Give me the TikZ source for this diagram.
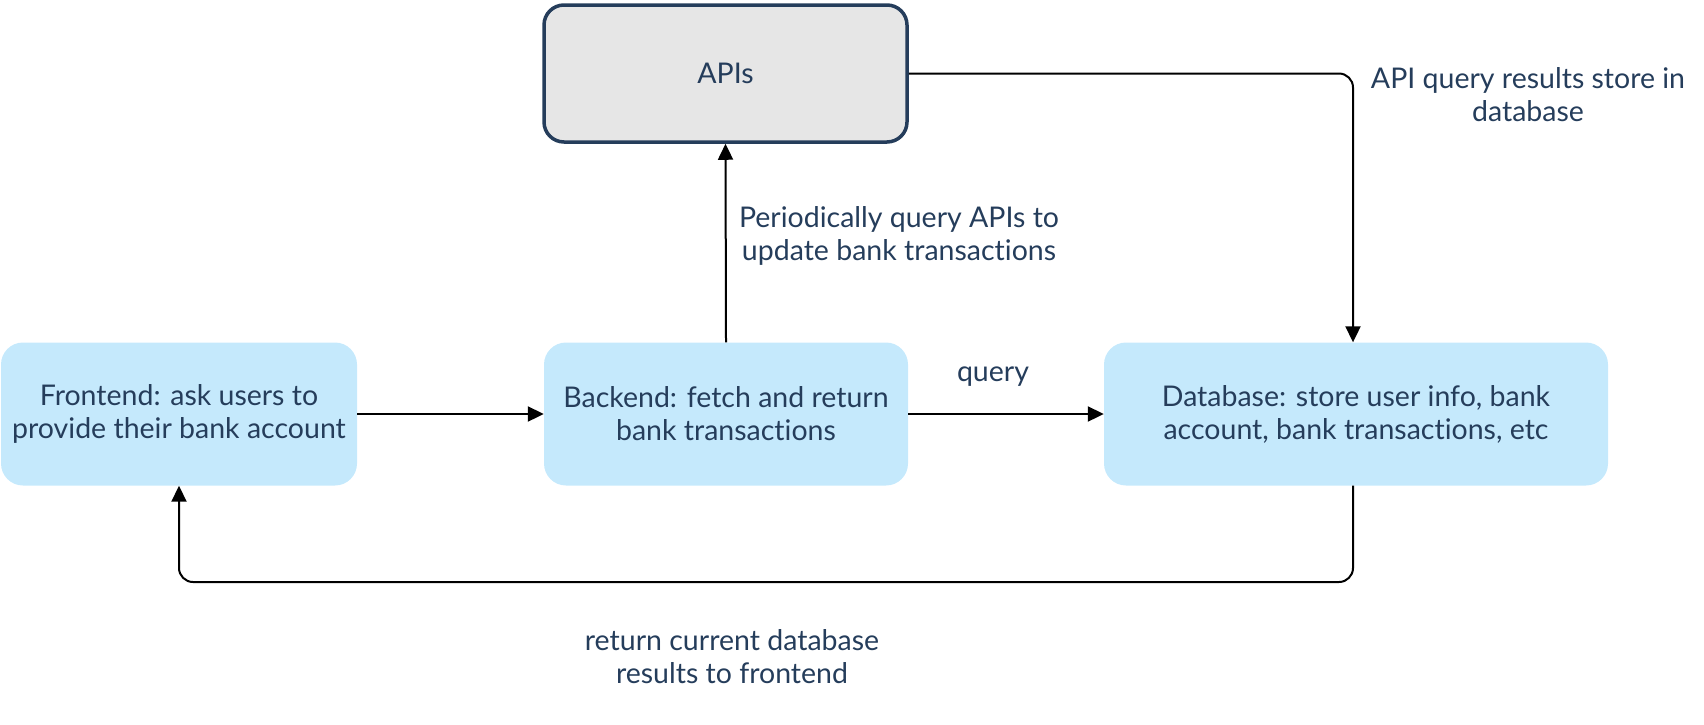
\documentclass[tikz,border=0pt]{standalone}
\usepackage{fontspec}
\setmainfont{Lato}[Ligatures={NoCommon,NoRare}]
\usetikzlibrary{arrows.meta,calc}
\definecolor{txt}{HTML}{253D5B}
\definecolor{boxblue}{HTML}{C5E9FC}
\definecolor{apigray}{HTML}{E6E6E6}
\definecolor{apiborder}{HTML}{253D5B}
\tikzset{
  base/.style={font=\fontsize{28.5}{33}\selectfont, text=txt, align=center},
  bluebox/.style={base, fill=boxblue, rounded corners=22pt, inner sep=0pt, minimum height=143pt},
  apibox/.style={base, fill=apigray, draw=apiborder, line width=3.5pt, rounded corners=20pt, minimum width=363pt, minimum height=137pt},
  lbl/.style={base, inner sep=0pt},
  conn/.style={draw=black, line width=2pt, rounded corners=14pt, -{Triangle[length=16pt,width=15pt]}}
}
\begin{document}
\begin{tikzpicture}[x=1pt,y=-1pt]
\useasboundingbox (0,0) rectangle (1704,724);
\node[apibox] (apis) at (725.5,73.5) {APIs};
\node[bluebox, minimum width=356pt] (fe) at (179,414) {Frontend: ask users to\\provide their bank account};
\node[bluebox, minimum width=364pt] (be) at (726,414) {Backend: fetch and return\\bank transactions};
\node[bluebox, minimum width=504pt] (db) at (1356,414) {Database: store user info, bank\\account, bank transactions, etc};
\coordinate (dbtop) at ([xshift=-3pt]db.north);
\coordinate (dbbot) at ([xshift=-3pt]db.south);
\coordinate (low) at (0,582);
\node[lbl] (lper) at (899,236) {Periodically query APIs to\\update bank transactions};
\node[lbl] (lq) at (993,377) {query};
\node[lbl] (lapi) at (1528,95) {API query results store in\\database};
\node[lbl] (lret) at (732,657) {return current database\\results to frontend};
\draw[conn] (fe.east) -- (be.west);
\draw[conn] (be.east) -- (db.west);
\draw[conn] (be.north) -- (apis.south);
\draw[conn] (apis.east) -| (dbtop);
\draw[conn] (dbbot) -- (dbbot |- low) -- (fe.south |- low) -- (fe.south);
\end{tikzpicture}
\end{document}
